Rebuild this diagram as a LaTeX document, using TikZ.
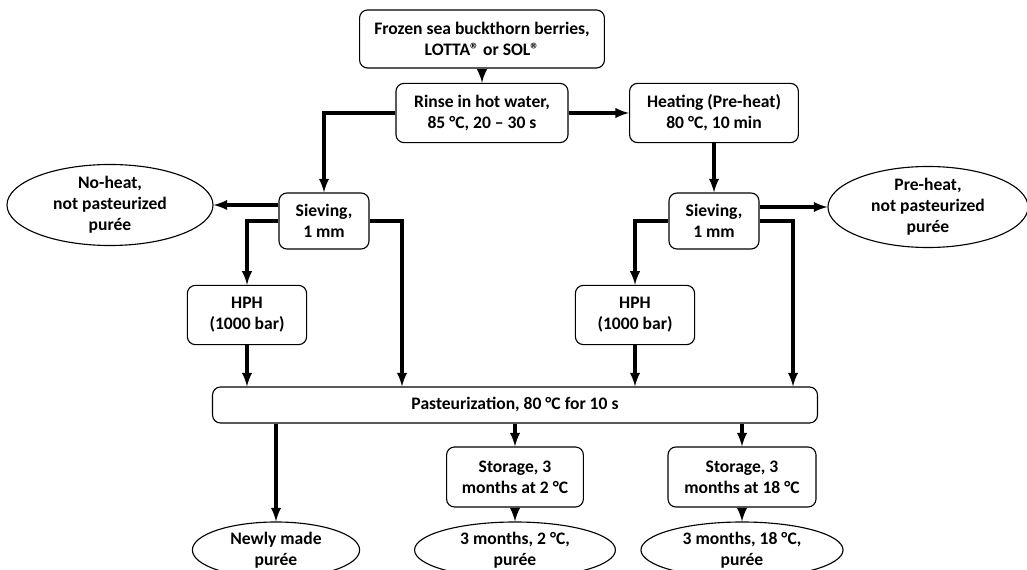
\documentclass[tikz,border=0pt]{standalone}
\usepackage{fontspec}
\setmainfont{Carlito}
\usetikzlibrary{positioning,shapes,arrows}

\begin{document}
\begin{tikzpicture}[x = .025cm, y = -.025cm,
    box/.style = {draw, rounded corners = .2cm, line width = .8pt, align = center, inner sep = 0pt, font = \fontsize{12.5}{15}\selectfont\bfseries},
    oval/.style = {draw, ellipse, line width = .8pt, align = center, inner sep = 0pt, font = \fontsize{12.5}{15}\selectfont\bfseries},
    arr/.style = {->, >=latex, line width = 2.3pt}]
    \fill[white] (0,0) rectangle (1027,570);
    \useasboundingbox (0,0) rectangle (1027,570);
    % top of the chart
    \node[box, minimum width = 6.12cm, minimum height = 1.45cm] (frozen) at (482,39) {Frozen sea buckthorn berries,\\LOTTA® or SOL®};
    \node[box, minimum width = 4.3cm, minimum height = 1.48cm] (rinse) at (482,113) {Rinse in hot water,\\85 °C, 20 – 30 s};
    \node[box, minimum width = 4.22cm, minimum height = 1.48cm] (heat) at (714,113) {Heating (Pre-heat)\\80 °C, 10 min};
    % sieving
    \node[box, minimum width = 2.25cm, minimum height = 1.4cm] (sievL) at (324,221) {Sieving,\\1 mm};
    \node[box, minimum width = 2.25cm, minimum height = 1.4cm] (sievR) at (714,221) {Sieving,\\1 mm};
    \node[oval, minimum width = 5.15cm, minimum height = 1.85cm] (noheat) at (110,205) {No-heat,\\not pasteurized\\purée};
    \node[oval, minimum width = 5cm, minimum height = 1.75cm] (preheat) at (928,207) {Pre-heat,\\not pasteurized\\purée};
    \node[box, minimum width = 2.98cm, minimum height = 1.48cm] (hphL) at (247,315) {HPH\\(1000 bar)};
    \node[box, minimum width = 2.98cm, minimum height = 1.48cm] (hphR) at (635,315) {HPH\\(1000 bar)};
    % pasteurization and storage
    \node[box, minimum width = 15.12cm, minimum height = .9cm] (past) at (515,405) {Pasteurization, 80 °C for 10 s};
    \node[box, minimum width = 3.42cm, minimum height = 1.5cm] (storA) at (515,477) {Storage, 3\\months at 2 °C};
    \node[box, minimum width = 3.7cm, minimum height = 1.5cm] (storB) at (742,477) {Storage, 3\\months at 18 °C};
    \node[oval, minimum width = 4.18cm, minimum height = 1.4cm] (newly) at (276,550) {Newly made\\purée};
    \node[oval, minimum width = 5.02cm, minimum height = 1.4cm] (monA) at (515,550) {3 months, 2 °C,\\purée};
    \node[oval, minimum width = 5.05cm, minimum height = 1.4cm] (monB) at (742,550) {3 months, 18 °C,\\purée};
    \coordinate (inL) at (402,0);
    \coordinate (inR) at (793,0);

    \draw[arr] (frozen) -- (rinse);
    \draw[arr] (rinse) -- (heat);
    \draw[arr] (rinse.west) -| (sievL.north);
    \draw[arr] (heat) -- (sievR);
    \draw[arr] (noheat.east -| sievL.west) -- (noheat.east);
    \draw[arr] (preheat.west -| sievR.east) -- (preheat.west);
    \draw[arr] (sievL.west) -| (hphL.north);
    \draw[arr] (sievR.west) -| (hphR.north);
    \draw[arr] (sievL.east) -| (inL |- past.north);
    \draw[arr] (sievR.east) -| (inR |- past.north);
    \draw[arr] (hphL) -- (hphL |- past.north);
    \draw[arr] (hphR) -- (hphR |- past.north);
    \draw[arr] (newly.north |- past.south) -- (newly);
    \draw[arr] (storA |- past.south) -- (storA);
    \draw[arr] (storB |- past.south) -- (storB);
    \draw[arr] (storA) -- (monA);
    \draw[arr] (storB) -- (monB);
\end{tikzpicture}
\end{document}
